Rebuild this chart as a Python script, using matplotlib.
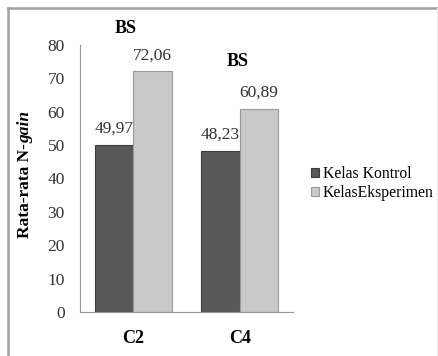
import matplotlib
matplotlib.use("Agg")
import matplotlib.pyplot as plt
import numpy as np
from matplotlib.lines import Line2D

categories = ["C2", "C4"]
kontrol = [49.97, 48.23]
eksperimen = [72.06, 60.89]
kontrol_labels = ["49,97", "48,23"]
eksperimen_labels = ["72,06", "60,89"]
notes = ["BS", "BS"]
series_names = ["Kelas Kontrol", "KelasEksperimen"]
yticks = [0, 10, 20, 30, 40, 50, 60, 70, 80]

plt.rcParams['font.family'] = ['Liberation Serif', 'DejaVu Serif']

W, H = 438, 356
fig = plt.figure(figsize=(W / 100, H / 100), dpi=100)
fig.patch.set_facecolor('white')

# outer border (left, top, faint right)
fig.lines.append(Line2D([8 / W, 8 / W], [0, 1 - 8 / H], transform=fig.transFigure,
                        color='#a0a0a0', linewidth=1.8))
fig.lines.append(Line2D([8 / W, 1], [1 - 8 / H, 1 - 8 / H], transform=fig.transFigure,
                        color='#a0a0a0', linewidth=1.8))
fig.lines.append(Line2D([437 / W, 437 / W], [0, 1 - 8 / H], transform=fig.transFigure,
                        color='#ededed', linewidth=0.8))

ax = fig.add_axes([80 / W, 1 - 312 / H, (293 - 80) / W, (312 - 45) / H])
x = np.arange(len(categories))
w = 0.36
dark, light = '#585858', '#c9c9c9'
b1 = ax.bar(x - w / 2, kontrol, w, color=dark, edgecolor='#3c3c3c', linewidth=0.8,
            label=series_names[0])
b2 = ax.bar(x + w / 2, eksperimen, w, color=light, edgecolor='#9a9a9a', linewidth=0.8,
            label=series_names[1])

for xi, v, t in zip(x, kontrol, kontrol_labels):
    ax.text(xi - w / 2, v + 2.5, t, ha='center', va='bottom', fontsize=12.5, color='#333333')
for xi, v, t in zip(x, eksperimen, eksperimen_labels):
    ax.text(xi + w / 2, v + 2.5, t, ha='center', va='bottom', fontsize=12.5, color='#333333')

# BS notes
ax.text(x[0] - 0.07, 82.5, notes[0], ha='center', va='bottom', fontsize=13,
        fontweight='bold', clip_on=False)
ax.text(x[1] - 0.02, 72.5, notes[1], ha='center', va='bottom', fontsize=13,
        fontweight='bold', clip_on=False)

ax.set_xlim(-0.5, 1.5)
ax.set_ylim(0, 80)
ax.set_yticks(yticks)
ax.set_yticklabels([str(t) for t in yticks], fontsize=12.5, color='#333333')
ax.set_xticks(x)
ax.set_xticklabels(categories, fontsize=13, fontweight='bold')
ax.tick_params(axis='both', length=0)
ax.tick_params(axis='y', pad=11)
ax.tick_params(axis='x', pad=13)
for s in ['top', 'right']:
    ax.spines[s].set_visible(False)
ax.spines['left'].set_color('#999999')
ax.spines['bottom'].set_color('#999999')

# y label: "Rata-rata N-" bold + "gain" bold italic
fig.canvas.draw()
r = fig.canvas.get_renderer()
t1 = fig.text(25 / W, 1 - 238 / H, "Rata-rata N-", rotation=90, ha='center', va='bottom',
              fontsize=12.5, fontweight='bold')
bb = t1.get_window_extent(renderer=r)
t2 = fig.text(25 / W, bb.y1 / H, "gain", rotation=90, ha='center', va='bottom',
              fontsize=12.5, fontweight='bold', fontstyle='italic')

leg = fig.legend(handles=[b1, b2], labels=series_names, loc='upper left',
                 bbox_to_anchor=(303 / W, 1 - 158 / H), frameon=False, fontsize=11.3,
                 handlelength=0.5, handleheight=0.5, handletextpad=0.25,
                 labelspacing=0.2, borderpad=0)

fig.savefig("out.png", dpi=100)
